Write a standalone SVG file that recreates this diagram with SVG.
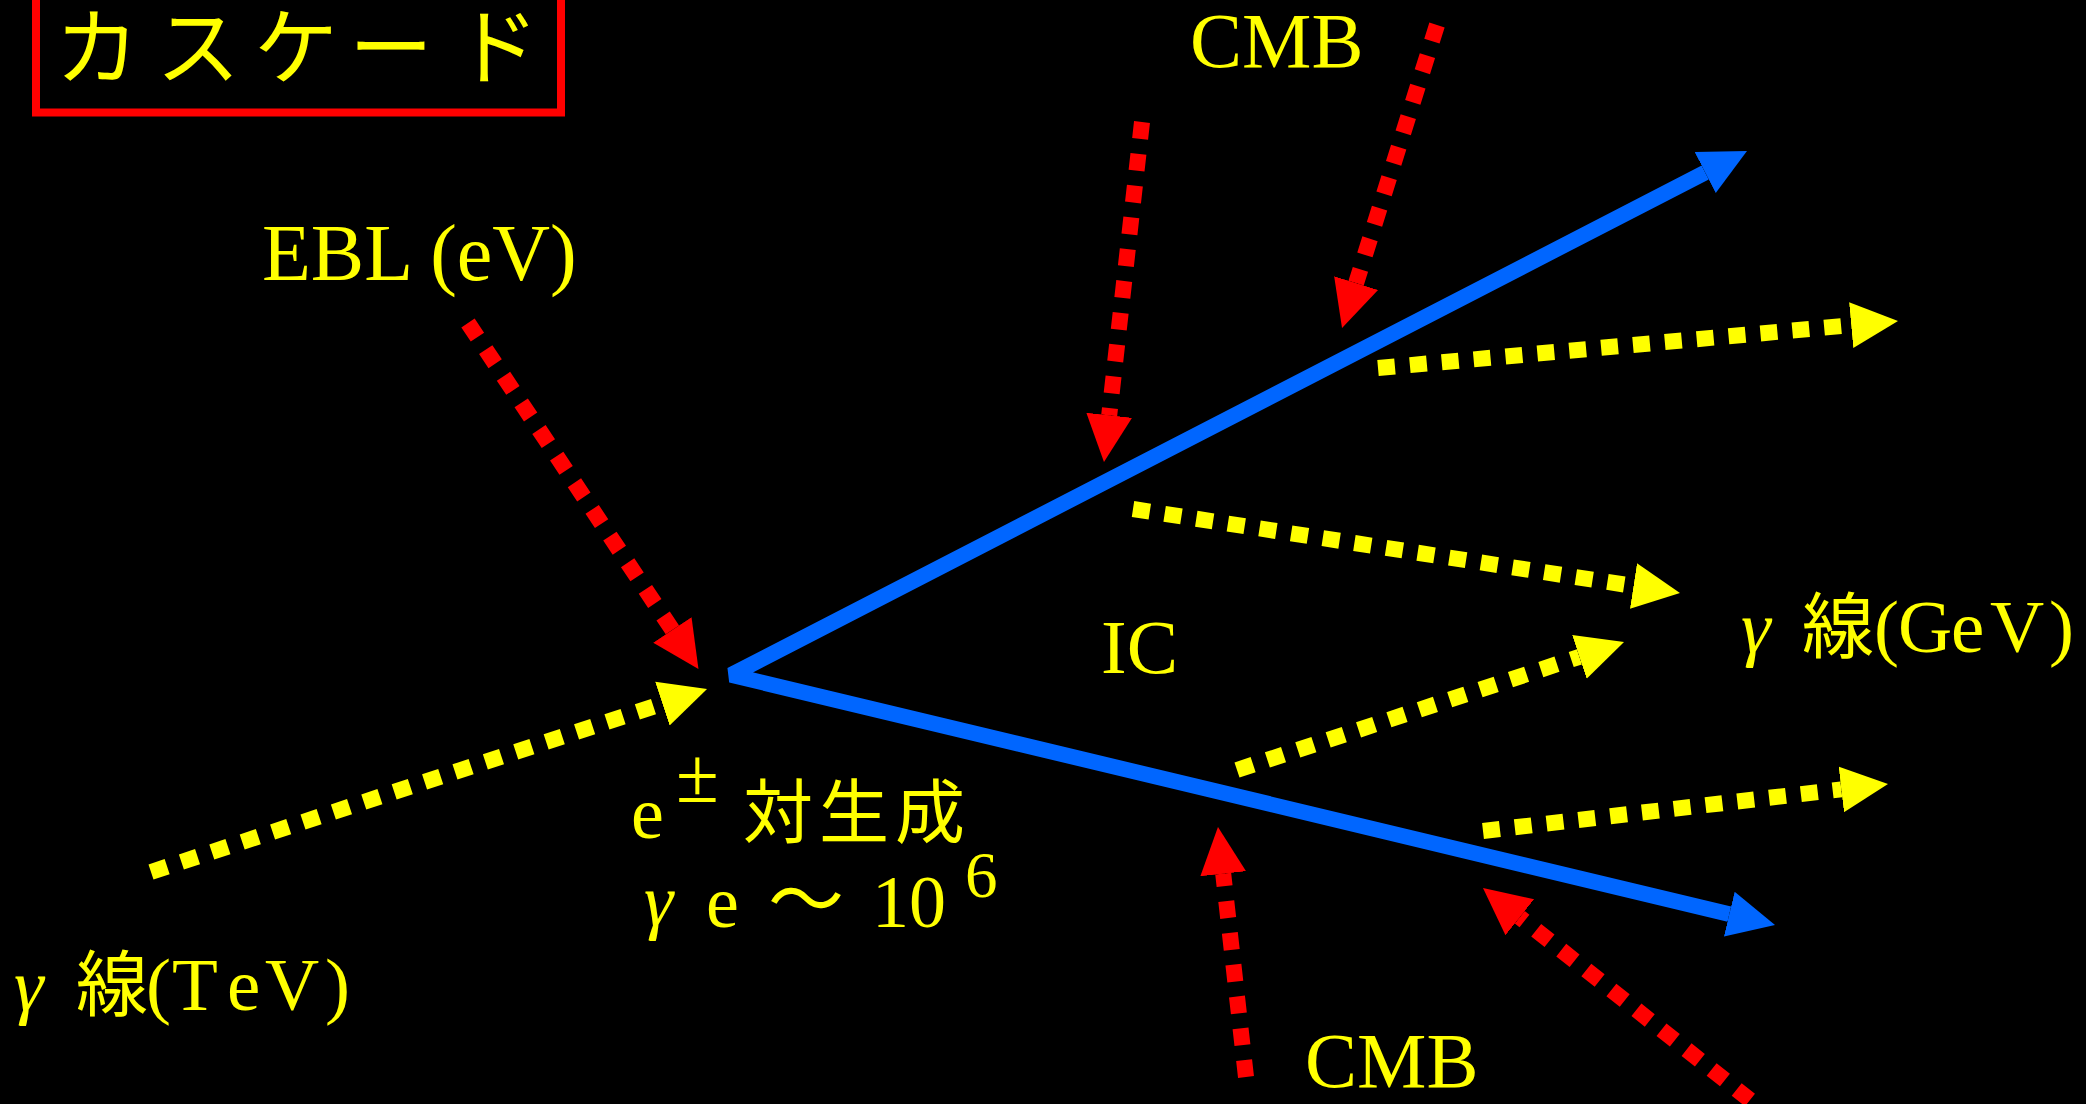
<svg xmlns="http://www.w3.org/2000/svg" width="2086" height="1104" viewBox="0 0 2086 1104">
<style>
.lbl{font-family:"Liberation Serif","Times New Roman",serif;fill:#ffff00}
.it{font-family:"Liberation Serif","Times New Roman",serif;font-style:italic;fill:#ffff00}
.cjk{font-family:"Noto Sans CJK JP","Noto Sans CJK SC",sans-serif;fill:#ffff00}
.ph{fill:none;stroke:#ffff00;stroke-width:16;stroke-dasharray:17 15;marker-end:url(#hy)}
.bg{fill:none;stroke:#ff0000;stroke-width:16;stroke-dasharray:17 15;marker-end:url(#hr)}
.el{fill:none;stroke:#0066ff;stroke-width:15.5;stroke-linejoin:bevel}
</style>
<defs>
<marker id="hy" viewBox="0 -24 48 48" refX="0" refY="0" markerWidth="48" markerHeight="48" markerUnits="userSpaceOnUse" orient="auto"><path d="M0,-23 L47,0 L0,23 z" fill="#ffff00"/></marker>
<marker id="hr" viewBox="0 -24 48 48" refX="0" refY="0" markerWidth="48" markerHeight="48" markerUnits="userSpaceOnUse" orient="auto"><path d="M0,-23 L47,0 L0,23 z" fill="#ff0000"/></marker>
<marker id="hb" viewBox="0 -24 48 48" refX="0" refY="0" markerWidth="48" markerHeight="48" markerUnits="userSpaceOnUse" orient="auto-start-reverse"><path d="M0,-23 L47,0 L0,23 z" fill="#0066ff"/></marker>
</defs>
<rect width="2086" height="1104" fill="#000000"/>

<g id="title">
<rect x="36" y="-20" width="525" height="132.5" fill="none" stroke="#ff0000" stroke-width="8"/>
<text class="cjk" x="55 156 254 349 455" y="78" font-size="84">カスケード</text>
</g>

<g id="connectors">
<path id="electrons" class="el" d="M1705.2,172.5 L731,675 L1729.3,914.1" marker-start="url(#hb)" marker-end="url(#hb)"/>
<line id="gamma-tev" class="ph" x1="151" y1="872" x2="662.4" y2="703.7"/>
<line id="ebl" class="bg" x1="468" y1="323" x2="672.4" y2="629.9"/>
<line id="cmb-1" class="bg" x1="1142" y1="122" x2="1109.2" y2="415.3"/>
<line id="cmb-2" class="bg" x1="1437" y1="25" x2="1356.1" y2="283.1"/>
<line id="cmb-3" class="bg" x1="1246" y1="1077" x2="1223.2" y2="873.7"/>
<line id="cmb-4" class="bg" x1="1750" y1="1100" x2="1519.8" y2="917.2"/>
<line id="ic-1" class="ph" x1="1378" y1="368" x2="1851.2" y2="325.2"/>
<line id="ic-2" class="ph" x1="1133" y1="509" x2="1633.5" y2="585.9"/>
<line id="ic-3" class="ph" x1="1237" y1="770" x2="1579.4" y2="656.8"/>
<line id="ic-4" class="ph" x1="1483" y1="831" x2="1841.3" y2="789.4"/>
</g>

<g id="label-ebl">
<text class="lbl" x="262" y="280" font-size="80">EBL (eV)</text>
</g>
<g id="label-cmb-top">
<text class="lbl" x="1190" y="67" font-size="78">CMB</text>
</g>
<g id="label-cmb-bottom">
<text class="lbl" x="1305" y="1087" font-size="78">CMB</text>
</g>
<g id="label-ic">
<text class="lbl" x="1101" y="673" font-size="77">IC</text>
</g>
<g id="label-gamma-tev">
<text class="it" x="14" y="1010" font-size="75">γ</text>
<text class="cjk" x="76" y="1010" font-size="72">線</text>
<text class="lbl" x="146 172 227 265 325" y="1010" font-size="75">(TeV)</text>
</g>
<g id="label-gamma-gev">
<text class="it" x="1741" y="652" font-size="75">γ</text>
<text class="cjk" x="1802" y="652" font-size="72">線</text>
<text class="lbl" x="1874 1898 1951 1990 2049" y="652" font-size="75">(GeV)</text>
</g>
<g id="label-pair">
<text class="lbl" x="631" y="838" font-size="74">e</text>
<text class="lbl" x="676" y="802" font-size="78">±</text>
<text class="cjk" x="743 819 895" y="838" font-size="70">対生成</text>
<text class="it" x="644" y="925" font-size="74">γ</text>
<text class="lbl" x="706" y="927" font-size="74">e</text>
<text class="cjk" x="768" y="927" font-size="76">～</text>
<text class="lbl" x="872" y="927" font-size="74">10</text>
<text class="lbl" x="965" y="897" font-size="65">6</text>
</g>
</svg>
